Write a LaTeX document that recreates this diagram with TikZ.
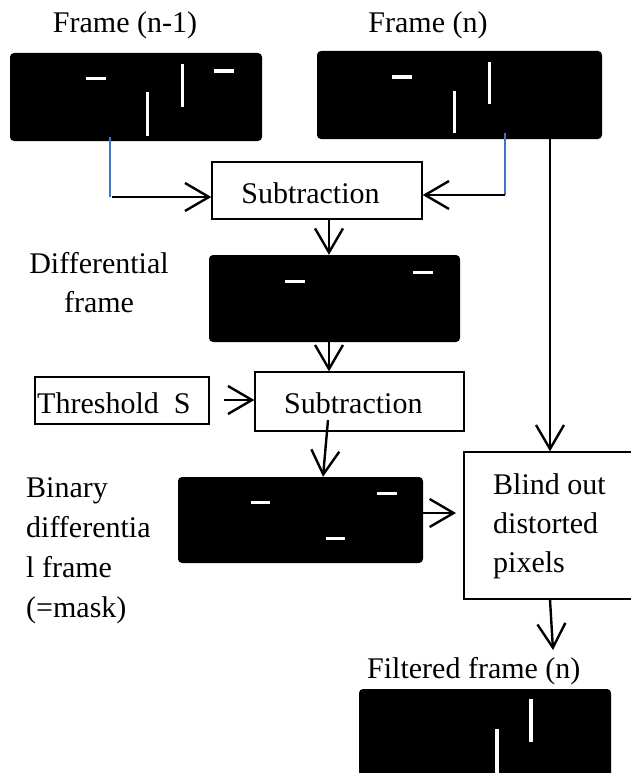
\documentclass[tikz,border=0pt]{standalone}
\usepackage{fontspec}
\setmainfont{Liberation Serif}
\usetikzlibrary{arrows.meta}
\definecolor{tapblue}{RGB}{68,114,196}
\tikzset{
  every node/.style={font=\fontsize{30}{36}\selectfont},
  frm/.style={fill=black, draw=none, rounded corners=4pt, inner sep=0pt},
  procbox/.style={draw=black, line width=1.3pt, fill=white, inner sep=0pt},
  lbl/.style={inner sep=0pt, anchor=base},
  lblw/.style={inner sep=0pt, anchor=base west},
  flow/.style={line width=2.4pt, -{Straight Barb[length=24pt,width=28pt]}},
  tap/.style={draw=tapblue, line width=2.6pt},
  blip/.style={fill=white}
}
\begin{document}
\begin{tikzpicture}[x=1pt,y=-1pt]
\useasboundingbox (0,0) rectangle (631,773);
\clip (0,0) rectangle (631,773);

% input frames
\node[frm, minimum width=252pt, minimum height=88pt] (f1) at (136,97) {};
\node[frm, minimum width=285pt, minimum height=88pt] (f2) at (459.5,95) {};
\node[lbl] (f1lbl) at (125,33) {Frame (n-1)};
\node[lbl] (f2lbl) at (428,33) {Frame (n)};
% objects in frame n-1
\fill[blip] (86,77) rectangle (106,80.5);
\fill[blip] (145.5,92) rectangle (149,136);
\fill[blip] (180.5,64) rectangle (184,107);
\fill[blip] (214,69.5) rectangle (234,73);
% objects in frame n
\fill[blip] (392,75.5) rectangle (412,79);
\fill[blip] (452.5,91) rectangle (456,133);
\fill[blip] (487.5,62) rectangle (491,104);

% first subtraction
\node[procbox, minimum width=210pt, minimum height=57pt] (sub1) at (317,190.5) {};
\node[lbl] (sub1txt) at (310.5,203) {Subtraction};

% differential frame
\node[frm, minimum width=251pt, minimum height=87pt] (diff) at (334.5,298.5) {};
\fill[blip] (285,279.5) rectangle (305,283);
\fill[blip] (413,270.5) rectangle (433,274);
\node[lbl] (difflbl1) at (99,273) {Differential};
\node[lbl] (difflbl2) at (99,312) {frame};

% threshold and second subtraction
\node[procbox, minimum width=174pt, minimum height=47pt] (thr) at (122,400.5) {};
\node[lblw] (thrtxt) at (37,413) {Threshold\ \ S};
\node[procbox, minimum width=209pt, minimum height=59pt] (sub2) at (359.5,401.5) {};
\node[lblw] (sub2txt) at (284,413) {Subtraction};

% binary differential frame
\node[frm, minimum width=245pt, minimum height=86pt] (bin) at (300.5,520) {};
\fill[blip] (251,500.5) rectangle (270,504);
\fill[blip] (377,491.5) rectangle (397,495);
\fill[blip] (326,536.5) rectangle (345,540);
\node[lblw] (binlbl1) at (26,497) {Binary};
\node[lblw] (binlbl2) at (26,537) {differentia};
\node[lblw] (binlbl3) at (26,577) {l frame};
\node[lblw] (binlbl4) at (26,617) {(=mask)};

% blind-out step
\node[procbox, minimum width=172pt, minimum height=147pt] (blind) at (550,525.5) {};
\node[lblw] (bl1) at (493,494) {Blind out};
\node[lblw] (bl2) at (493,533) {distorted};
\node[lblw] (bl3) at (493,572) {pixels};

% filtered output frame
\node[frm, minimum width=252pt, minimum height=112pt] (filt) at (485,745) {};
\fill[blip] (495,729) rectangle (499,780);
\fill[blip] (529,699) rectangle (533,742);
\node[lblw] (filtlbl) at (367,678) {Filtered frame (n)};

% connectors
\coordinate (t1) at (110,197);
\coordinate (t2) at (505,195);
\coordinate (c1) at (329,0);
\coordinate (c2) at (323,0);
\coordinate (s2out) at (328,420);
\coordinate (c3) at (456,513);
\coordinate (c4) at (553,650);
\coordinate (c5) at (224,400);

\draw[tap] ([yshift=4pt]f1.south -| t1) -- (t1);
\draw[flow] ([xshift=2pt]t1) -- (sub1.west |- t1);
\draw[tap] ([yshift=6pt]f2.south -| t2) -- (t2);
\draw[flow] (t2) -- (sub1.east |- t2);
\draw[flow] (f2.south -| blind.north) -- (blind.north);
\draw[flow] (sub1.south -| c1) -- (diff.north -| c1);
\draw[flow] (diff.south -| c1) -- (sub2.north -| c1);
\draw[flow] (c5) -- (sub2.west |- c5);
\draw[flow] (s2out) -- (bin.north -| c2);
\draw[flow] (bin.east |- c3) -- (c3);
\draw[flow] (blind.south) -- (c4);
\end{tikzpicture}
\end{document}
